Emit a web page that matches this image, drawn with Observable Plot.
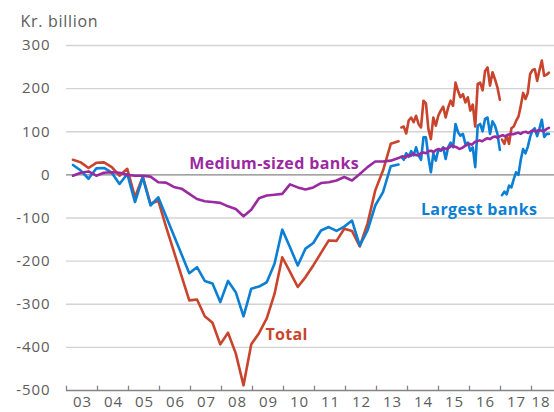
<!DOCTYPE html>
<html>
<head>
<meta charset="utf-8">
<script src="https://cdn.jsdelivr.net/npm/d3@7"></script>
<script src="https://cdn.jsdelivr.net/npm/@observablehq/plot@0.6"></script>
<style>
  html, body { margin: 0; padding: 0; background: #fff; }
  #chart { width: 554px; height: 412px; overflow: hidden; }
  svg { font-family: "Open Sans", sans-serif; }
  svg .tick-label text { letter-spacing: 0.9px; }
  svg .unit-label text { letter-spacing: 0.7px; }
  svg .series-label text { letter-spacing: 0.35px; }
</style>
</head>
<body>
<div id="chart"></div>
<script>
// ---- Tick values / labels ----
const yTicks = [300, 200, 100, 0, -100, -200, -300, -400, -500];
const yearBoundaries = [2003, 2004, 2005, 2006, 2007, 2008, 2009, 2010, 2011, 2012, 2013, 2014, 2015, 2016, 2017, 2018];
const yearLabels = ["03", "04", "05", "06", "07", "08", "09", "10", "11", "12", "13", "14", "15", "16", "17", "18"];

// ---- Quarterly period (2003 - 2013) ----
const quarterStart = 2003.21;
const totalQ = [35, 29, 16, 28, 29, 18, -2, 14, -52, -4,
  -67, -60, -120, -177, -234, -291, -289, -328, -343, -393,
  -366, -414, -488, -393, -367, -333, -276, -191, -225, -260,
  -237, -210, -181, -152, -153, -125, -130, -166, -113, -36,
  10, 72, 78];
const largestQ = [23, 10, -9, 15, 16, 5, -21, 2, -63, -6,
  -71, -52, -96, -140, -184, -228, -214, -246, -252, -295,
  -246, -272, -328, -264, -259, -249, -206, -127, -168, -210,
  -171, -158, -129, -121, -130, -120, -106, -164, -129, -71,
  -40, 20, 24];
const mediumQ = [-2, 5, 8, -2, 5, 6, 5, 0, -2, -2,
  -4, -17, -18, -28, -32, -44, -56, -61, -63, -65,
  -73, -79, -96, -81, -54, -48, -46, -44, -22, -29,
  -34, -29, -19, -17, -13, -5, -13, 2, 18, 31,
  31, 33, 39];

// ---- Monthly period, first break (late 2013 - end 2016) ----
const m1Start = 2013.80, m1End = 2016.98;
const totalM1 = [110, 112, 96, 126, 133, 122, 137, 118, 110, 172,
  166, 106, 83, 133, 114, 137, 149, 158, 133, 156,
  172, 160, 214, 195, 180, 187, 168, 180, 149, 163,
  112, 211, 214, 196, 241, 249, 207, 238, 222, 203,
  174];
const largestM1 = [42, 35, 50, 42, 55, 45, 64, 45, 35, 87,
  87, 41, 6, 49, 33, 58, 56, 64, 37, 64,
  75, 64, 118, 99, 91, 95, 72, 75, 56, 64,
  18, 114, 118, 101, 130, 133, 95, 124, 114, 95,
  58];

// ---- Monthly period, second break (2017 - 2018) ----
const m2Start = 2017.05, m2End = 2018.56;
const totalM2 = [82, 72, 92, 72, 108, 112, 125, 135, 160, 190,
  176, 190, 234, 243, 245, 218, 243, 265, 230, 232,
  237];
const largestM2 = [-47, -39, -45, -25, -29, -10, 6, 0, 35, 60,
  50, 65, 88, 103, 108, 90, 108, 128, 88, 95,
  95];

// ---- Medium-sized banks, monthly (late 2013 - 2018) ----
const mediumStart = 2013.77, mediumEnd = 2018.56;
const mediumM = [41, 43, 40, 46, 44, 49, 46, 45, 50, 52,
  50, 55, 56, 53, 58, 60, 57, 62, 60, 63,
  68, 66, 64, 60, 62, 66, 70, 72, 70, 76,
  78, 80, 78, 82, 85, 83, 87, 89, 86, 90,
  92, 89, 93, 95, 94, 96, 98, 95, 99, 100,
  97, 101, 103, 100, 104, 103, 101, 106, 109];

// ---- Series labels ----
const seriesLabels = [
  {text: "Medium-sized banks", x: 2009.7, y: 26, color: "#9b2aa1"},
  {text: "Largest banks", x: 2016.31, y: -80, color: "#0b7fd3"},
  {text: "Total", x: 2010.1, y: -372, color: "#c9442c"}
];

// ---- Build table ----
function spaced(start, end, values) {
  const n = values.length;
  return values.map((v, i) => ({date: start + (end - start) * i / (n - 1), value: v}));
}
const rows = [];
function add(series, seg, pts) { pts.forEach(p => rows.push({series, seg, ...p})); }
add("Total", "Total-q", totalQ.map((v, i) => ({date: quarterStart + 0.25 * i, value: v})));
add("Total", "Total-m1", spaced(m1Start, m1End, totalM1));
add("Total", "Total-m2", spaced(m2Start, m2End, totalM2));
add("Largest", "Largest-q", largestQ.map((v, i) => ({date: quarterStart + 0.25 * i, value: v})));
add("Largest", "Largest-m1", spaced(m1Start, m1End, largestM1));
add("Largest", "Largest-m2", spaced(m2Start, m2End, largestM2));
add("Medium", "Medium", [
  ...mediumQ.map((v, i) => ({date: quarterStart + 0.25 * i, value: v})),
  ...spaced(mediumStart, mediumEnd, mediumM)
]);

const colors = {Total: "#c9442c", Largest: "#0b7fd3", Medium: "#9b2aa1"};
const xLabelRows = yearBoundaries.map((d, i) => ({x: d + 0.5, label: yearLabels[i], last: i === yearBoundaries.length - 1}));

const chart = Plot.plot({
  width: 554,
  height: 412,
  marginLeft: 66,
  marginRight: 0,
  marginTop: 45,
  marginBottom: 22,
  style: {fontFamily: "Open Sans, sans-serif"},
  x: {domain: [2003, 2003 + 488 / 31], axis: null},
  y: {domain: [-500, 300], axis: null},
  marks: [
    Plot.ruleY(yTicks.filter(d => d !== 0 && d !== -500), {stroke: "#d3d3d3", strokeWidth: 1.3}),
    Plot.ruleY([0], {stroke: "#858585", strokeWidth: 1.3}),
    Plot.ruleY([-500], {stroke: "#858585", strokeWidth: 1.3}),
    Plot.ruleX(yearBoundaries, {y1: -500, y2: -490, stroke: "#858585", strokeWidth: 1.3}),
    Plot.text(yTicks, {x: 2003, y: d => d, text: d => String(d), textAnchor: "end", dx: -16, fontSize: 15, fill: "#5c5c5c", className: "tick-label"}),
    Plot.text(xLabelRows.filter(d => !d.last), {x: "x", y: -500, text: "label", dy: 12, dx: 0.5, fontSize: 15, fill: "#5c5c5c", lineAnchor: "middle", className: "tick-label"}),
    Plot.text(xLabelRows.filter(d => d.last), {x: "x", y: -500, text: "label", dy: 12, dx: -6, fontSize: 15, fill: "#5c5c5c", lineAnchor: "middle", className: "tick-label"}),
    Plot.text(["Kr. billion"], {frameAnchor: "top-left", dx: -46, dy: -24, textAnchor: "start", lineAnchor: "middle", fontSize: 16, fill: "#5c5c5c", className: "unit-label"}),
    Plot.line(rows, {x: "date", y: "value", z: "seg", stroke: d => colors[d.series], strokeWidth: 2.6, curve: "linear"}),
    Plot.text(seriesLabels, {x: "x", y: "y", text: "text", fill: "color", fontSize: 16, fontWeight: "bold", className: "series-label"})
  ]
});
document.getElementById("chart").appendChild(chart);
</script>
</body>
</html>
